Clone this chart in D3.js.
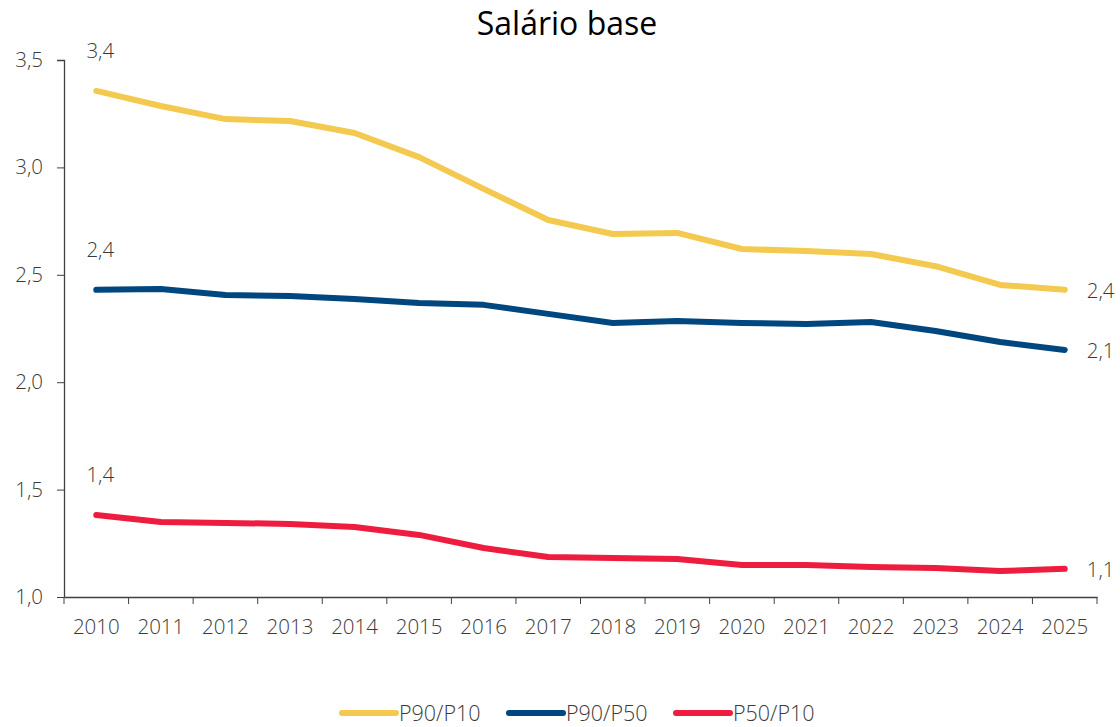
<!DOCTYPE html>
<html><head><meta charset="utf-8">
<script src="https://cdn.jsdelivr.net/npm/d3@7"></script>
<style>body{margin:0;background:#fff;font-family:"Open Sans","Noto Sans",sans-serif;} text{font-weight:300;}</style>
</head><body><svg id="c" width="1120" height="727"></svg>
<script>
const years = ["2010","2011","2012","2013","2014","2015","2016","2017","2018","2019","2020","2021","2022","2023","2024","2025"];
const p90p10 = [3.356,3.286,3.225,3.216,3.16,3.048,2.90,2.755,2.69,2.695,2.62,2.611,2.597,2.54,2.453,2.43];
const p90p50 = [2.43,2.434,2.406,2.401,2.387,2.369,2.36,2.318,2.276,2.285,2.276,2.271,2.28,2.238,2.187,2.15];
const p50p10 = [1.382,1.349,1.345,1.34,1.326,1.289,1.228,1.186,1.182,1.177,1.149,1.149,1.14,1.135,1.121,1.131];
const yTicks = [1.0,1.5,2.0,2.5,3.0,3.5];
const seriesNames = ["P90/P10","P90/P50","P50/P10"];
const seriesColors = ["#F4C94F","#00477F","#EE1C3F"];
const series = [p90p10,p90p50,p50p10];

const svg = d3.select("#c");
const fmt = v => d3.format(".1f")(v).replace(".",",");
const x = d3.scaleBand().domain(years).range([64,1097]);
const y = d3.scaleLinear().domain([1,3.5]).range([597,60]);
const textColor = "#3a3a3a";
const FS = 20.5;

svg.append("text").attr("x",567).attr("y",35).attr("text-anchor","middle")
  .attr("font-size",32).attr("fill","#000").style("font-weight",400).text("Salário base");

const ya = svg.append("g").attr("transform","translate(64,0)")
  .call(d3.axisLeft(y).tickValues(yTicks).tickSize(7).tickPadding(14).tickFormat(fmt));
const xa = svg.append("g").attr("transform","translate(0,597)")
  .call(d3.axisBottom(x).tickSize(0).tickPadding(22));
xa.selectAll(".bnd").data(years.concat(["end"])).enter().append("line")
  .attr("x1",(d,i)=>64+i*x.step()).attr("x2",(d,i)=>64+i*x.step())
  .attr("y1",0).attr("y2",7).attr("stroke","#404040");
[ya,xa].forEach(a=>{
  a.selectAll("path").attr("stroke","#404040").attr("stroke-width",1.3);
  a.selectAll("line").attr("stroke","#404040");
  a.selectAll("text").attr("font-size",FS).attr("fill",textColor).attr("font-family","Open Sans, Noto Sans, sans-serif");
});
ya.select(".domain").attr("d","M-7,60.5H0.5V597.5");

const line = d3.line().x((d,i)=>x(years[i])+x.bandwidth()/2).y(d=>y(d));
series.forEach((s,k)=>{
  svg.append("path").datum(s).attr("d",line).attr("fill","none")
    .attr("stroke",seriesColors[k]).attr("stroke-width",6).attr("stroke-linecap","round").attr("stroke-linejoin","round");
  const x0 = x(years[0])+x.bandwidth()/2, xn = x(years[years.length-1])+x.bandwidth()/2;
  svg.append("text").attr("x",x0+4).attr("y",y(s[0])-33).attr("text-anchor","middle")
    .attr("font-size",FS).attr("fill",textColor).text(fmt(s[0]));
  svg.append("text").attr("x",xn+22).attr("y",y(s[s.length-1])+8)
    .attr("font-size",FS).attr("fill",textColor).text(fmt(s[s.length-1]));
});

const lg = svg.append("g");
const lx = [342,509,676];
seriesNames.forEach((n,k)=>{
  lg.append("line").attr("x1",lx[k]).attr("x2",lx[k]+54).attr("y1",713).attr("y2",713)
    .attr("stroke",seriesColors[k]).attr("stroke-width",6).attr("stroke-linecap","round");
  lg.append("text").attr("x",lx[k]+57).attr("y",721).attr("font-size",21.5).attr("fill",textColor).text(n);
});
</script></body></html>
